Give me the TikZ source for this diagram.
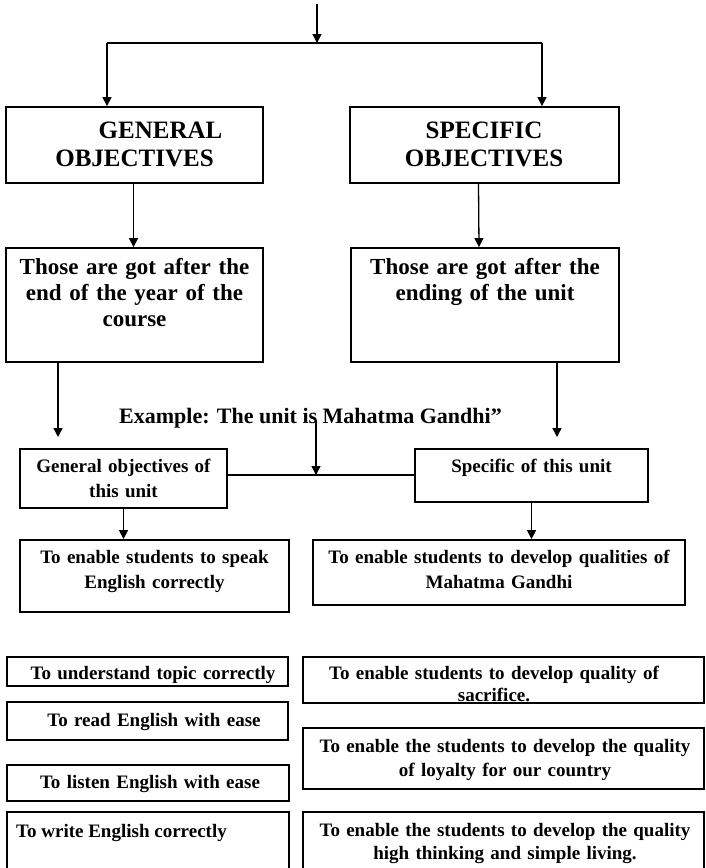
\documentclass[tikz,border=0pt]{standalone}
\usepackage{fontspec}
\setmainfont{Liberation Serif}
\usetikzlibrary{arrows.meta,fit}

\tikzset{
  box/.style={draw, line width=1.8pt, inner sep=0pt},
  link/.style={line width=1.3pt},
  arr/.style={link, -{Triangle[length=9pt,width=9pt]}},
  lbl/.style={anchor=base, inner sep=0pt, align=center},
  headtext/.style={font=\bfseries\fontsize{25}{28}\selectfont},
  bodytext/.style={font=\bfseries\fontsize{23}{26}\selectfont},
  exampletext/.style={font=\bfseries\fontsize{22}{26}\selectfont},
  note/.style={font=\bfseries\fontsize{19}{#1}\selectfont},
  note/.default=24,
}

\begin{document}
\begin{tikzpicture}[x=1pt,y=-1pt]
\useasboundingbox (0,0) rectangle (706,868);
\clip (0,0) rectangle (706,868);

% ---- boxes ----
\node[box, fit={(6,107) (263,183)}]   (gen) {};
\node[box, fit={(350,107) (619,183)}] (spec) {};
\node[box, fit={(6,248) (263,362)}]   (genwhen) {};
\node[box, fit={(351,248) (619,362)}] (specwhen) {};
\node[box, fit={(20,449) (227,508)}]  (genunit) {};
\node[box, fit={(415,449) (648,502)}] (specunit) {};
\node[box, fit={(20,540) (289,612)}]  (speak) {};
\node[box, fit={(313,540) (685,605)}] (qualities) {};
\node[box, fit={(7,657) (288,686)}]   (topic) {};
\node[box, fit={(303,657) (704,703)}] (sacrifice) {};
\node[box, fit={(7,702) (288,740)}]   (read) {};
\node[box, fit={(303,728) (704,789)}] (loyalty) {};
\node[box, fit={(7,765) (289,801)}]   (listen) {};
\node[box, fit={(7,812) (289,880)}]   (write) {};
\node[box, fit={(303,812) (704,880)}] (living) {};

% ---- texts ----
\node[lbl, headtext, text width=250pt] (gentxt) at (134.5,138)
  {\hspace*{52pt}GENERAL\\OBJECTIVES};
\node[lbl, headtext, text width=260pt] (spectxt) at (484,138)
  {SPECIFIC\\OBJECTIVES};
\node[lbl, bodytext, text width=250pt] (genwhentxt) at (134.5,274)
  {Those are got after the\\end of the year of the\\course};
\node[lbl, bodytext, text width=260pt] (specwhentxt) at (485,274)
  {Those are got after the\\ending of the unit};
\node[anchor=base west, inner sep=0pt, exampletext] (example) at (119,423)
  {Example: The unit is Mahatma Gandhi”};
\node[lbl, note=25, text width=200pt] (genunittxt) at (123.5,472)
  {General objectives of\\this unit};
\node[lbl, note, text width=225pt] (specunittxt) at (531.5,472)
  {Specific of this unit};
\node[lbl, note=25, text width=260pt] (speaktxt) at (154.5,563)
  {To enable students to speak\\English correctly};
\node[lbl, note=25, text width=365pt] (qualtxt) at (499,563)
  {To enable students to develop qualities of\\Mahatma Gandhi};
\node[lbl, note, text width=270pt] (topictxt) at (153,679)
  {To understand topic correctly};
\node[lbl, note=22, text width=395pt] (sacrtxt) at (494,679)
  {To enable students to develop quality of\\sacrifice.};
\node[lbl, note, text width=270pt] (readtxt) at (154,726)
  {To read English with ease};
\node[lbl, note=24, text width=395pt] (loyaltxt) at (505,752)
  {To enable the students to develop the quality\\of loyalty for our country};
\node[lbl, note, text width=270pt] (listentxt) at (150,788)
  {To listen English with ease};
\node[anchor=base west, inner sep=0pt, note] (writetxt) at (16,837)
  {To write English correctly};
\node[lbl, note=23, text width=395pt] (livingtxt) at (505,836)
  {To enable the students to develop the quality\\high thinking and simple living.};

% ---- connectors ----
\coordinate (top)    at (317,4);
\coordinate (split)  at (317,43);
\coordinate (splitL) at (107,43);
\coordinate (splitR) at (542,43);
\draw[arr]  (top) -- (split);
\draw[link] (splitL) -- (splitR);
\draw[arr]  (splitL) -- (splitL |- gen.north);
\draw[arr]  (splitR) -- (splitR |- spec.north);

\draw[arr] ([xshift=-1pt]gen.south) -- ([xshift=-1pt]genwhen.north);
\draw[arr] ([xshift=-6pt]spec.south) -- ([xshift=-6pt]specwhen.north);

\coordinate (genend)  at (58,437);
\coordinate (specend) at (557,437);
\draw[arr] (genwhen.south -| genend) -- (genend);
\draw[arr] (specwhen.south -| specend) -- (specend);

\coordinate (exdrop) at (316,420);
\coordinate (join)   at (316,475);
\draw[link] (genunit.east |- join) -- (specunit.west |- join);
\draw[arr]  (exdrop) -- (join);

\draw[arr] (genunit.south) -- (genunit.south |- speak.north);
\draw[arr] (specunit.south) -- (specunit.south |- qualities.north);
\end{tikzpicture}
\end{document}
